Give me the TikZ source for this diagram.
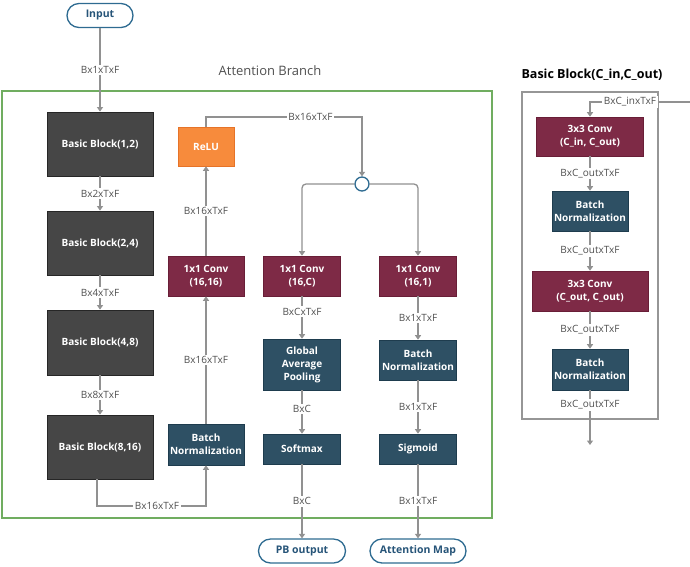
\documentclass[tikz,border=0pt]{standalone}
\usepackage{fontspec}
\setmainfont{Open Sans}
\usetikzlibrary{arrows.meta}
\definecolor{bbgray}{RGB}{70,70,70}
\definecolor{convfill}{RGB}{126,42,70}
\definecolor{convdraw}{RGB}{105,30,55}
\definecolor{bnfill}{RGB}{46,80,100}
\definecolor{bndraw}{RGB}{30,60,78}
\definecolor{relufill}{RGB}{247,139,60}
\definecolor{reludraw}{RGB}{230,115,40}
\definecolor{pillc}{RGB}{46,107,145}
\definecolor{pilltext}{RGB}{38,84,120}
\definecolor{linec}{RGB}{145,145,145}
\definecolor{lblc}{RGB}{80,80,80}
\definecolor{greenc}{RGB}{112,173,96}
\definecolor{panelc}{RGB}{150,150,150}
\tikzset{
  boxtxt/.style={text=white, font=\bfseries\fontsize{10}{13}\selectfont, align=center, inner sep=0pt},
  blk/.style={boxtxt, draw=black!85, fill=bbgray, line width=0.8pt, minimum width=106pt, minimum height=64pt},
  convbox/.style={boxtxt, draw=convdraw, fill=convfill, line width=0.6pt},
  bnbox/.style={boxtxt, draw=bndraw, fill=bnfill, line width=0.6pt},
  relubox/.style={boxtxt, draw=reludraw, fill=relufill, line width=0.6pt},
  pill/.style={draw=pillc, rounded corners=12pt, line width=1.3pt, text=pilltext, font=\bfseries\fontsize{10.5}{12}\selectfont, minimum height=24pt, inner sep=0pt},
  lbl/.style={fill=white, text=lblc, font=\fontsize{10}{12}\selectfont, inner sep=1.5pt},
  conn/.style={draw=linec, line width=1.3pt, -{Triangle[width=6pt,length=4.5pt]}},
}
\begin{document}
\begin{tikzpicture}[x=1pt,y=-1pt]
\useasboundingbox (0,0) rectangle (690,566);
% green attention branch frame
\draw[greenc, line width=1.1pt] (2,91) rectangle (492,518);
\node[text=lblc, font=\fontsize{13}{15}\selectfont] (attn) at (270,71) {Attention Branch};
% side panel
\draw[panelc, line width=1.1pt] (522,92) rectangle (658,419);
\node[font=\bfseries\fontsize{12.5}{15}\selectfont] (sidetitle) at (592,75) {Basic Block(C\_in,C\_out)};

% main nodes
\node[pill, minimum width=66pt] (in) at (100,15.5) {Input};
\node[blk] (bb1) at (100,144) {Basic Block(1,2)};
\node[blk] (bb2) at (100,243) {Basic Block(2,4)};
\node[blk, minimum height=65pt] (bb3) at (100,342.5) {Basic Block(4,8)};
\node[blk] (bb4) at (100,447) {Basic Block(8,16)};

\node[bnbox, minimum width=76pt, minimum height=41pt] (bnL) at (206,444.5) {Batch\\Normalization};
\node[convbox, minimum width=76pt, minimum height=40pt] (convL) at (206,276) {1x1 Conv\\(16,16)};
\node[relubox, minimum width=56pt, minimum height=39pt] (relu) at (206,146.5) {ReLU};

\node[circle, draw=pillc, line width=1.3pt, fill=white, minimum size=14pt, inner sep=0pt] (circ) at (362,184) {};

\node[convbox, minimum width=77pt, minimum height=40pt] (convC) at (302,276) {1x1 Conv\\(16,C)};
\node[bnbox, minimum width=77pt, minimum height=51pt] (gap) at (302,364.5) {Global\\Average\\Pooling};
\node[bnbox, minimum width=77pt, minimum height=30pt] (soft) at (302,449) {Softmax};
\node[pill, minimum width=87pt] (pb) at (302,551) {PB output};

\node[convbox, minimum width=77pt, minimum height=40pt] (convR) at (418,276) {1x1 Conv\\(16,1)};
\node[bnbox, minimum width=77pt, minimum height=40pt] (bnR) at (418,360) {Batch\\Normalization};
\node[bnbox, minimum width=77pt, minimum height=30pt] (sig) at (418,449) {Sigmoid};
\node[pill, minimum width=96pt] (am) at (418,551) {Attention Map};

% side panel nodes
\node[convbox, minimum width=107pt, minimum height=39pt] (sconv1) at (590,136.5) {3x3 Conv\\(C\_in, C\_out)};
\node[bnbox, minimum width=76pt, minimum height=40pt] (sbn1) at (590,211) {Batch\\Normalization};
\node[convbox, minimum width=116pt, minimum height=40pt] (sconv2) at (590,291) {3x3 Conv\\(C\_out, C\_out)};
\node[bnbox, minimum width=76pt, minimum height=41pt] (sbn2) at (590,369.5) {Batch\\Normalization};
\coordinate (sin) at (690,102);
\coordinate (sinc) at (590,102);
\coordinate (sout) at (590,445);

% connectors main column
\draw[conn] (in) -- node[lbl] {Bx1xTxF} (bb1);
\draw[conn] (bb1) -- node[lbl] {Bx2xTxF} (bb2);
\draw[conn] (bb2) -- node[lbl] {Bx4xTxF} (bb3);
\draw[conn] (bb3) -- node[lbl] {Bx8xTxF} (bb4);
\coordinate (bbout) at ([xshift=-3pt]bb4.south);
\coordinate (bj1) at (97,506);
\coordinate (bj2) at (206,506);
\draw[conn] (bbout) -- (bj1) -- node[lbl, pos=0.55] {Bx16xTxF} (bj2) -- (bnL);
\draw[conn] (bnL) -- node[lbl] {Bx16xTxF} (convL);
\draw[conn] (convL) -- node[lbl] {Bx16xTxF} (relu);
\coordinate (rj1) at (206,117);
\coordinate (rj2) at (362,117);
\draw[conn] (relu) -- (rj1) -- node[lbl, pos=0.67] {Bx16xTxF} (rj2) -- (circ);
\draw[conn, rounded corners=4pt] (circ.west) -| (convC);
\draw[conn, rounded corners=4pt] (circ.east) -| (convR);

\draw[conn] (convC) -- node[lbl, pos=0.36] {BxCxTxF} (gap);
\draw[conn] (gap) -- node[lbl, pos=0.43] {BxC} (soft);
\draw[conn] (soft) -- node[lbl] {BxC} (pb);

\draw[conn] (convR) -- node[lbl] {Bx1xTxF} (bnR);
\draw[conn] (bnR) -- node[lbl] {Bx1xTxF} (sig);
\draw[conn] (sig) -- node[lbl] {Bx1xTxF} (am);

% side panel connectors
\draw[conn] (sin) -- node[lbl, pos=0.6] {BxC\_inxTxF} (sinc) -- (sconv1);
\draw[conn] (sconv1) -- node[lbl] {BxC\_outxTxF} (sbn1);
\draw[conn] (sbn1) -- node[lbl] {BxC\_outxTxF} (sconv2);
\draw[conn] (sconv2) -- node[lbl] {BxC\_outxTxF} (sbn2);
\draw[conn] (sbn2) -- node[lbl, pos=0.27] {BxC\_outxTxF} (sout);
\end{tikzpicture}
\end{document}
